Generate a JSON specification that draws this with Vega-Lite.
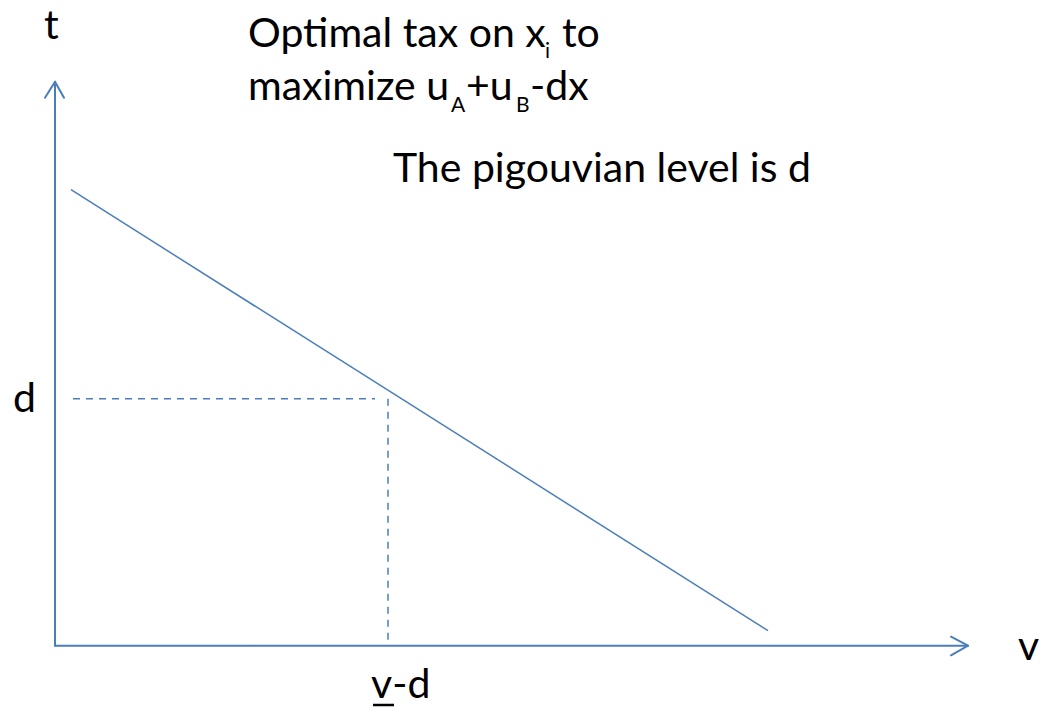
{
  "$schema": "https://vega.github.io/schema/vega-lite/v6.json",
  "width": 1041,
  "height": 711,
  "padding": 0,
  "autosize": {"type": "none"},
  "background": "white",
  "config": {"view": {"stroke": null}},
  "datasets": {
    "frame": [
      {"id": "axis_t", "ord": 0, "v": 0, "t": 0},
      {"id": "axis_t", "ord": 1, "v": 0, "t": 5.64},
      {"id": "axis_v", "ord": 0, "v": 0, "t": 0},
      {"id": "axis_v", "ord": 1, "v": 9.13, "t": 0},
      {"id": "head_t", "ord": 0, "v": -0.1, "t": 5.48},
      {"id": "head_t", "ord": 1, "v": 0, "t": 5.64},
      {"id": "head_t", "ord": 2, "v": 0.09, "t": 5.48},
      {"id": "head_v", "ord": 0, "v": 8.96, "t": 0.09},
      {"id": "head_v", "ord": 1, "v": 9.13, "t": 0},
      {"id": "head_v", "ord": 2, "v": 8.96, "t": -0.096}
    ],
    "schedule": [
      {"v": 0.16, "t": 4.56},
      {"v": 7.13, "t": 0.15}
    ],
    "guides": [
      {"id": "level_d", "ord": 0, "v": 0.18, "t": 2.47},
      {"id": "level_d", "ord": 1, "v": 3.2, "t": 2.47},
      {"id": "drop_v", "ord": 0, "v": 3.33, "t": 2.47},
      {"id": "drop_v", "ord": 1, "v": 3.33, "t": 0}
    ],
    "underline": [
      {"v": 3.18, "t": -0.593},
      {"v": 3.39, "t": -0.593}
    ],
    "labels": [
      {"text": "Optimal tax on x", "kind": "main", "v": 1.93, "t": 5.987},
      {"text": "i", "kind": "sub", "v": 4.9, "t": 5.877},
      {"text": "to", "kind": "main", "v": 5.07, "t": 5.987},
      {"text": "maximize u", "kind": "main", "v": 1.93, "t": 5.457},
      {"text": "A", "kind": "sub", "v": 3.96, "t": 5.337},
      {"text": "+u", "kind": "main", "v": 4.11, "t": 5.457},
      {"text": "B", "kind": "sub", "v": 4.61, "t": 5.337},
      {"text": "-dx", "kind": "main", "v": 4.75, "t": 5.457},
      {"text": "The pigouvian level is d", "kind": "main", "v": 3.38, "t": 4.637},
      {"text": "t", "kind": "main", "v": -0.11, "t": 6.067},
      {"text": "d", "kind": "main", "v": -0.42, "t": 2.337},
      {"text": "v", "kind": "main", "v": 9.63, "t": -0.143},
      {"text": "v-d", "kind": "main", "v": 3.16, "t": -0.523}
    ]
  },
  "encoding": {
    "x": {"field": "v", "type": "quantitative", "scale": {"domain": [-0.55, 9.86], "nice": false, "zero": false}, "axis": null},
    "y": {"field": "t", "type": "quantitative", "scale": {"domain": [-0.653, 6.457], "nice": false, "zero": false}, "axis": null}
  },
  "layer": [
    {
      "data": {"name": "frame"},
      "mark": {"type": "line", "color": "#4A7EBB", "strokeWidth": 2, "strokeCap": "round", "strokeJoin": "round"},
      "encoding": {"detail": {"field": "id"}, "order": {"field": "ord"}}
    },
    {
      "data": {"name": "schedule"},
      "mark": {"type": "line", "color": "#4A7EBB", "strokeWidth": 1.5},
      "encoding": {}
    },
    {
      "data": {"name": "guides"},
      "mark": {"type": "line", "color": "#4A7EBB", "strokeWidth": 1.5, "strokeDash": [7, 6]},
      "encoding": {"detail": {"field": "id"}, "order": {"field": "ord"}}
    },
    {
      "data": {"name": "underline"},
      "mark": {"type": "line", "color": "black", "strokeWidth": 2.5},
      "encoding": {}
    },
    {
      "data": {"name": "labels"},
      "transform": [{"filter": "datum.kind === 'main'"}],
      "mark": {"type": "text", "align": "left", "baseline": "alphabetic", "font": "Lato", "fontSize": 41, "color": "black"},
      "encoding": {"text": {"field": "text"}}
    },
    {
      "data": {"name": "labels"},
      "transform": [{"filter": "datum.kind === 'sub'"}],
      "mark": {"type": "text", "align": "left", "baseline": "alphabetic", "font": "Lato", "fontSize": 21, "color": "black"},
      "encoding": {"text": {"field": "text"}}
    }
  ]
}
